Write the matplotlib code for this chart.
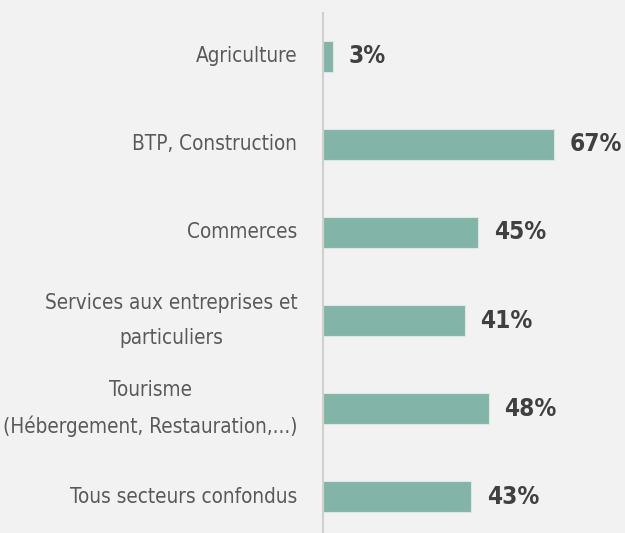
import matplotlib
matplotlib.use("Agg")
import matplotlib.pyplot as plt

# Data
categories = [
    "Agriculture",
    "BTP, Construction",
    "Commerces",
    "Services aux entreprises et\nparticuliers",
    "Tourisme\n(Hébergement, Restauration,...)",
    "Tous secteurs confondus",
]
values = [3, 67, 45, 41, 48, 43]

bg = "#f2f2f2"
bar_color = "#82b5a7"

fig = plt.figure(figsize=(6.25, 5.33), dpi=100, facecolor=bg)
ax = fig.add_axes([323 / 625, 0, 302 / 625, 520 / 533], facecolor=bg)

y = list(range(len(categories)))
ax.barh(y, values, height=0.35, color=bar_color, edgecolor="#d9e8e3", linewidth=0.8)

# value labels next to bars
for yi, v in zip(y, values):
    ax.text(v + 4.5, yi, f"{v}%", va="center", ha="left", fontsize=17.5,
            fontweight="bold", color="#404040", fontstretch="condensed")

ax.set_xlim(0, 87.5)
ax.set_ylim(5.41, -0.49)
ax.set_yticks(y)
ax.set_yticklabels(categories, fontsize=14.9, color="#595959",
                   multialignment="center", linespacing=1.9,
                   fontstretch="condensed", va="center")
ax.tick_params(axis="y", length=0, pad=18.5)
ax.set_xticks([])

for side in ["top", "right", "bottom"]:
    ax.spines[side].set_visible(False)
ax.spines["left"].set_color("#d0d0d0")
ax.spines["left"].set_linewidth(1.5)

fig.savefig("out.png", dpi=100, facecolor=bg)
